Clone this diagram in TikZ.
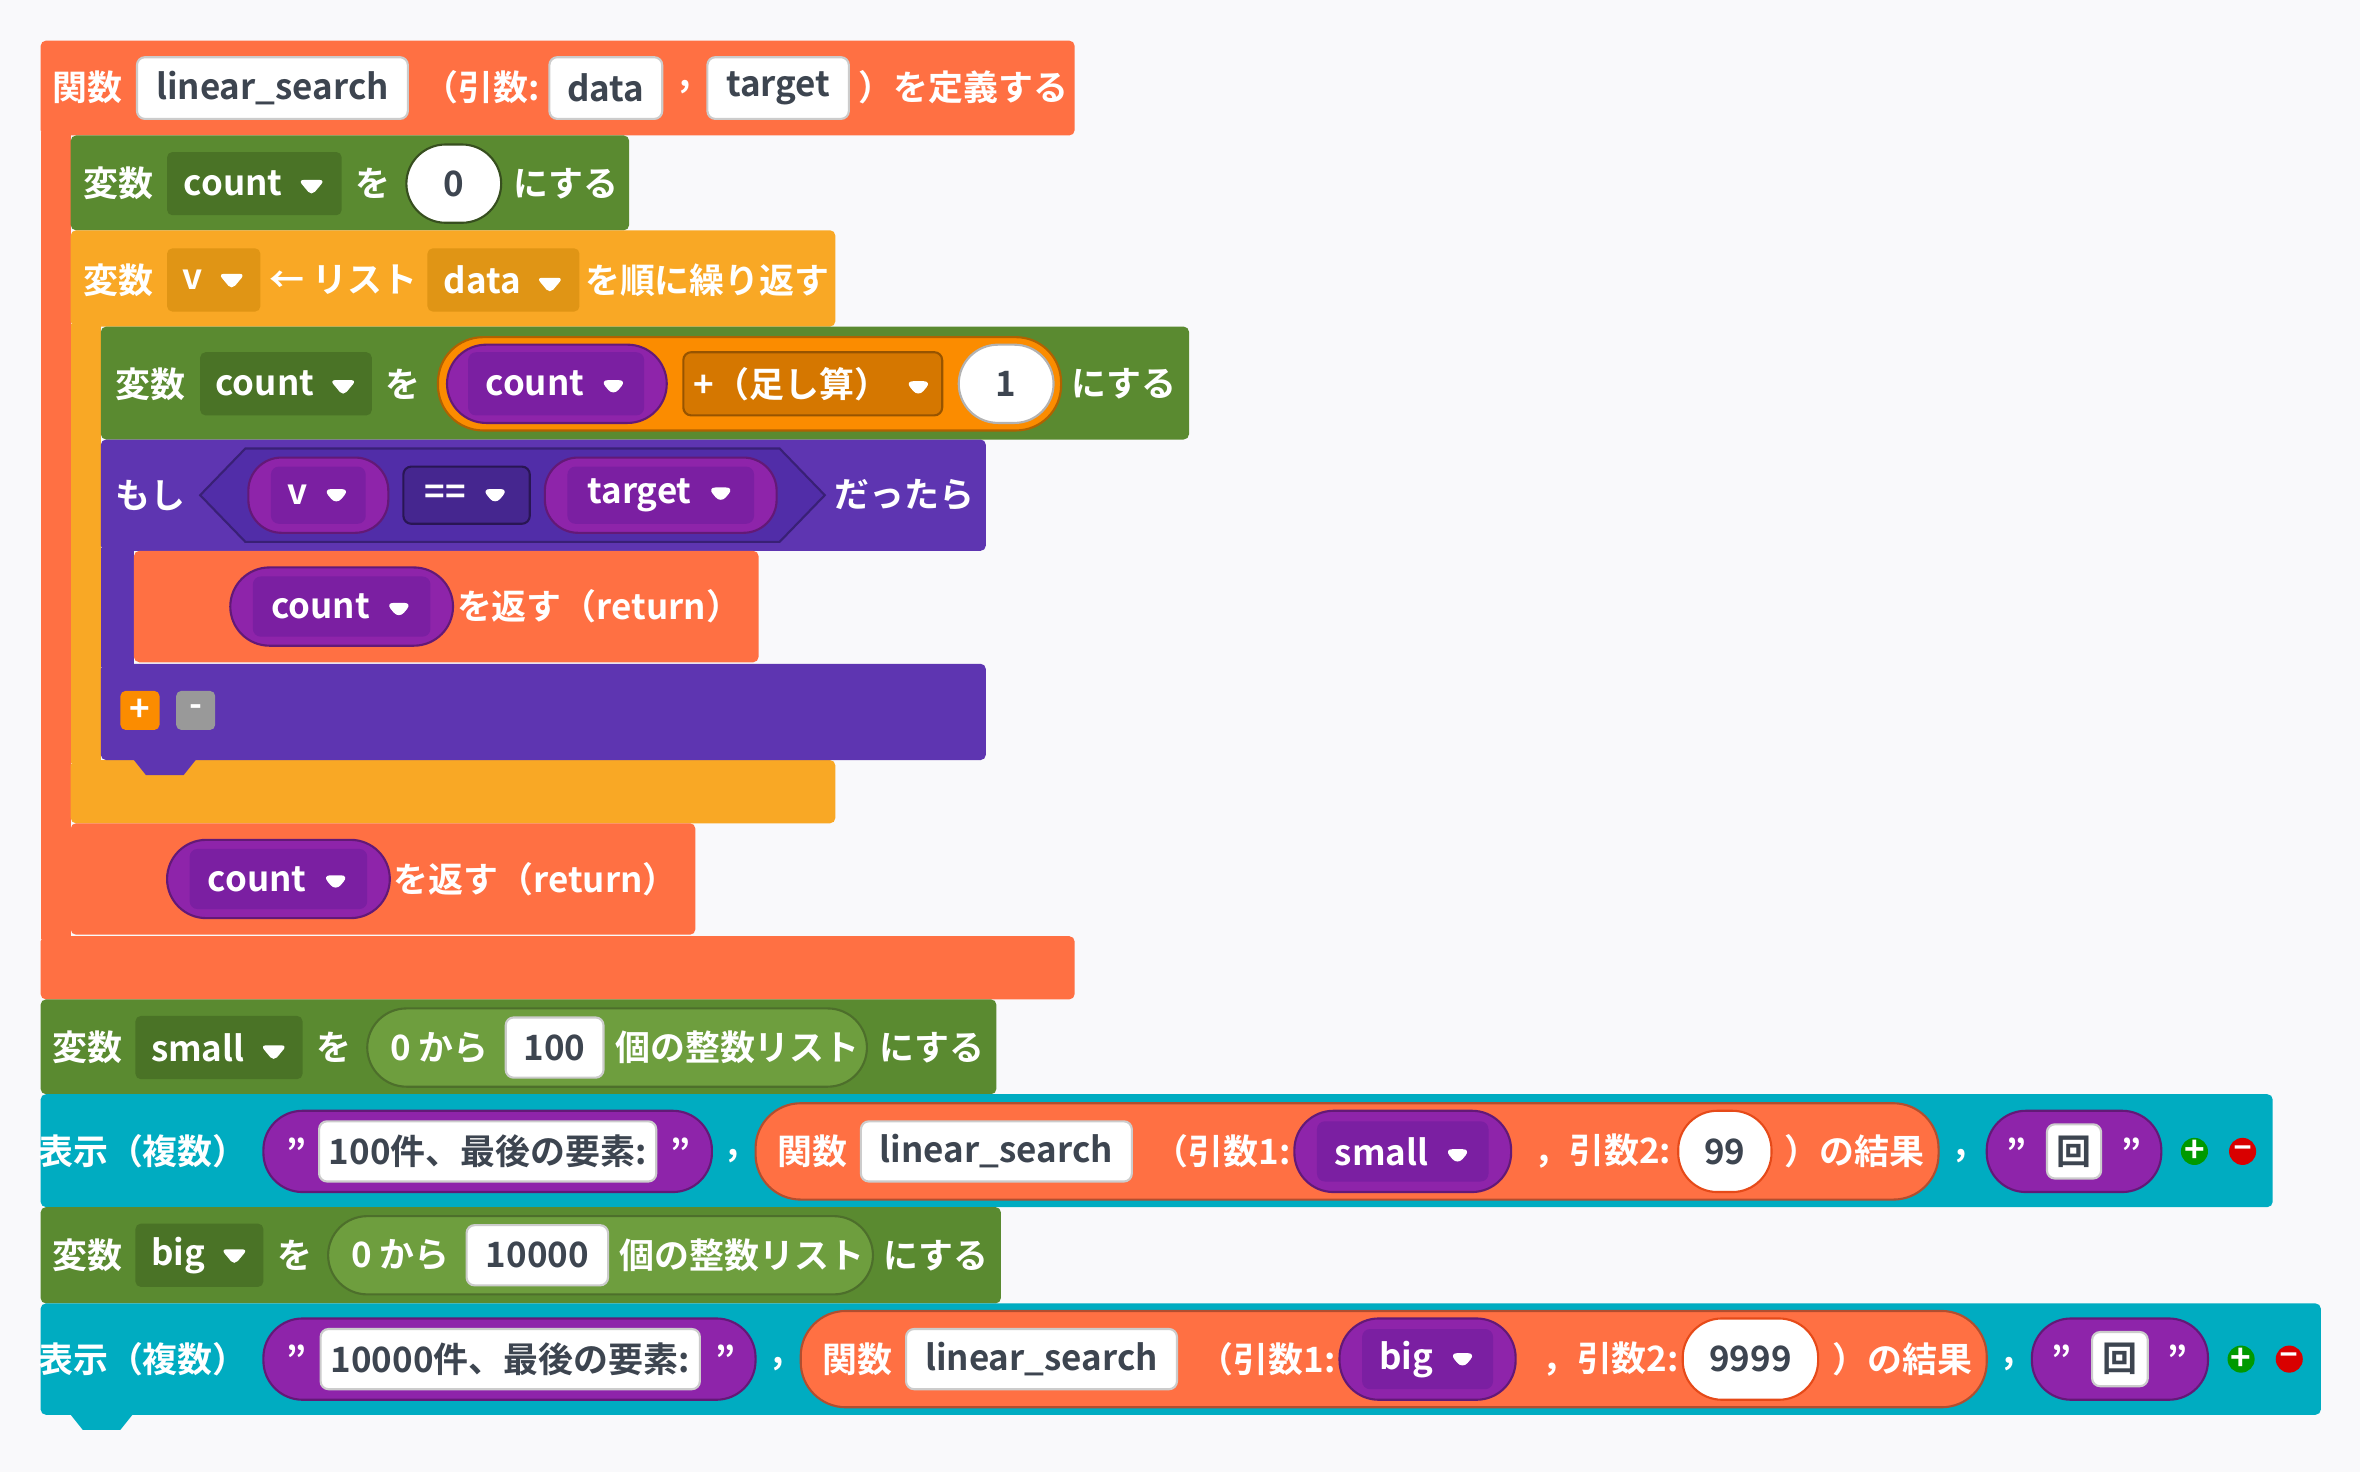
\documentclass[tikz,border=0pt]{standalone}
\usepackage{fontspec}
\setmainfont{Noto Sans CJK JP}[BoldFont={Noto Sans CJK JP Bold}]
\usetikzlibrary{positioning}
\definecolor{bgc}{HTML}{F9F9FB}
\definecolor{fnc}{HTML}{FF7043}
\definecolor{fnd}{HTML}{E64A19}
\definecolor{varc}{HTML}{5A8A30}
\definecolor{vard}{HTML}{4A7326}
\definecolor{varl}{HTML}{6E9E3E}
\definecolor{loopc}{HTML}{F9A825}
\definecolor{loopd}{HTML}{E09515}
\definecolor{ifc}{HTML}{5E35B1}
\definecolor{ifd}{HTML}{512DA8}
\definecolor{repc}{HTML}{8E24AA}
\definecolor{repd}{HTML}{7B1FA2}
\definecolor{opc}{HTML}{FB8C00}
\definecolor{prc}{HTML}{00ACC1}
\definecolor{prd}{HTML}{0097A7}
\definecolor{ink}{HTML}{3D4550}
\newcommand{\dd}{\hspace{3pt}\tikz\fill[white] (0pt,0pt)--(5pt,0pt)--(2.5pt,-3pt)--cycle;}
\begin{document}
\begin{tikzpicture}[x=0.01cm,y=-0.01cm,font=\fontsize{6.6}{8}\selectfont\bfseries,
    blk/.style={fill=#1,rounded corners=1pt},
    fld/.style={fill=white,draw=gray!40,rounded corners=1.5pt},
    pill/.style={fill=#1,draw=#1!70!black,line width=0.4pt,rounded corners=2.6mm},
    ipill/.style={fill=#1,draw=#1!70!black,line width=0.4pt,rounded corners=1.9mm},
    lbl/.style={text=white,inner sep=0pt},
    dark/.style={text=ink,inner sep=0pt}]
  \fill[bgc] (0,0) rectangle (1568,978);
  % function definition
  \fill[blk=fnc] (27,27) rectangle (714,90);
  \fill[fnc] (27,88) rectangle (47,624);
  \fill[blk=fnc] (27,622) rectangle (714,664);
  \node[lbl] (fn) at (58,58) {関数};
  \draw[fld] (91,38) rectangle (271,79) node[midway,dark] (fname) {linear\textunderscore search};
  \node[lbl] at (320,58) {（引数:};
  \draw[fld] (365,38) rectangle (440,79) node[midway,dark] (arg1) {data};
  \node[lbl] at (455,58) {,};
  \draw[fld] (470,38) rectangle (564,79) node[midway,dark] (arg2) {target};
  \node[lbl] at (640,58) {）を定義する};
  % count = 0
  \fill[blk=varc] (47,90) rectangle (418,153);
  \node[lbl] at (79,122) {変数};
  \fill[blk=vard] (111,101) rectangle (227,143) node[midway,lbl] {count\dd};
  \node[lbl] at (248,122) {を};
  \draw[pill=white,draw=varl!50!black] (270,96) rectangle (333,148) node[midway,dark] {0};
  \node[lbl] at (376,122) {にする};
  % for loop
  \fill[blk=loopc] (47,153) rectangle (555,217);
  \fill[loopc] (47,215) rectangle (67,507);
  \fill[blk=loopc] (47,505) rectangle (555,547);
  \node[lbl] at (79,186) {変数};
  \fill[blk=loopd] (111,165) rectangle (173,207) node[midway,lbl] {v\dd};
  \node[lbl] at (228,186) {← リスト};
  \fill[blk=loopd] (284,165) rectangle (385,207) node[midway,lbl] {data\dd};
  \node[lbl] at (470,186) {を順に繰り返す};
  % count = count + 1
  \fill[blk=varc] (67,217) rectangle (790,292);
  \node[lbl] at (100,255) {変数};
  \fill[blk=vard] (133,234) rectangle (247,276) node[midway,lbl] {count\dd};
  \node[lbl] at (268,255) {を};
  \draw[pill=opc,rounded corners=3mm] (291,224) rectangle (705,286);
  \draw[pill=repc] (297,229) rectangle (443,281);
  \fill[repd,rounded corners=1.5pt] (311,234) rectangle (428,276) node[midway,lbl] {count\dd};
  \draw[fill=opc!85!black,draw=opc!60!black,rounded corners=1.5pt] (454,234) rectangle (626,276) node[midway,lbl] {+（足し算）\dd};
  \draw[pill=white] (637,229) rectangle (700,281) node[midway,dark] {1};
  \node[lbl] at (747,255) {にする};
  % if block
  \fill[blk=ifc] (67,292) rectangle (655,366);
  \fill[ifc] (67,364) rectangle (89,443);
  \fill[blk=ifc] (67,441) rectangle (655,505);
  \fill[ifc] (89,505) -- (97,515) -- (122,515) -- (130,505) -- cycle;
  \node[lbl] at (100,329) {もし};
  \draw[fill=ifd,draw=ifd!70!black] (133,329) -- (163,298) -- (518,298) -- (548,329) -- (518,360) -- (163,360) -- cycle;
  \draw[ipill=repc,rounded corners=2.2mm] (165,304) rectangle (258,354);
  \fill[repd,rounded corners=1.5pt] (180,310) rectangle (243,348) node[midway,lbl] {v\dd};
  \draw[fill=ifd!85!black,draw=ifd!50!black,rounded corners=1.5pt] (268,310) rectangle (352,348) node[midway,lbl] {==\dd};
  \draw[ipill=repc,rounded corners=2.2mm] (362,304) rectangle (516,354);
  \fill[repd,rounded corners=1.5pt] (377,310) rectangle (501,348) node[midway,lbl] {target\dd};
  \node[lbl] at (601,329) {だったら};
  \fill[blk=fnc] (89,366) rectangle (504,440);
  \draw[pill=repc] (153,377) rectangle (301,429);
  \fill[repd,rounded corners=1.5pt] (168,383) rectangle (286,423) node[midway,lbl] {count\dd};
  \node[lbl] at (398,403) {を返す（return）};
  \fill[opc,rounded corners=1pt] (80,459) rectangle (106,485) node[midway,lbl] {+};
  \fill[gray!80,rounded corners=1pt] (117,459) rectangle (143,485) node[midway,lbl] {-};
  % return count
  \fill[blk=fnc] (47,547) rectangle (462,621);
  \draw[pill=repc] (111,558) rectangle (259,610);
  \fill[repd,rounded corners=1.5pt] (126,564) rectangle (244,604) node[midway,lbl] {count\dd};
  \node[lbl] at (356,584) {を返す（return）};
  % small
  \fill[blk=varc] (27,664) rectangle (662,727);
  \node[lbl] at (58,696) {変数};
  \fill[blk=vard] (90,675) rectangle (201,717) node[midway,lbl] {small\dd};
  \node[lbl] at (222,696) {を};
  \draw[pill=varl] (244,670) rectangle (576,722);
  \node[lbl] at (292,696) {0 から};
  \draw[fld] (336,676) rectangle (401,716) node[midway,dark] {100};
  \node[lbl] at (490,696) {個の整数リスト};
  \node[lbl] at (619,696) {にする};
  % print 1
  \fill[blk=prc] (27,727) rectangle (1510,802);
  \node[lbl] at (95,765) {表示（複数）};
  \draw[pill=repc] (175,738) rectangle (473,792);
  \node[lbl] at (197,765) {\char"22};
  \draw[fld] (212,745) rectangle (436,785) node[midway,dark] {100件、最後の要素:};
  \node[lbl] at (452,765) {\char"22};
  \node[lbl] at (487,768) {,};
  \draw[pill=fnc,rounded corners=3mm] (502,733) rectangle (1288,797);
  \node[lbl] at (540,765) {関数};
  \draw[fld] (572,745) rectangle (752,785) node[midway,dark] {linear\textunderscore search};
  \node[lbl] at (812,765) {（引数1:};
  \draw[pill=repc] (860,738) rectangle (1004,792);
  \fill[repd,rounded corners=1.5pt] (875,745) rectangle (989,785) node[midway,lbl] {small\dd};
  \node[lbl] at (1065,765) {，引数2:};
  \draw[pill=white,draw=fnd] (1115,738) rectangle (1177,792) node[midway,dark] {99};
  \node[lbl] at (1232,765) {）の結果};
  \node[lbl] at (1303,768) {,};
  \draw[pill=repc] (1320,738) rectangle (1436,792);
  \node[lbl] at (1340,765) {\char"22};
  \draw[fld] (1360,747) rectangle (1396,783) node[midway,dark] {回};
  \node[lbl] at (1416,765) {\char"22};
  \fill[green!60!black] (1458,765) circle (9) node[lbl] {+};
  \fill[red!85!black] (1490,765) circle (9) node[lbl] {--};
  % big
  \fill[blk=varc] (27,802) rectangle (665,866);
  \node[lbl] at (58,834) {変数};
  \fill[blk=vard] (90,813) rectangle (175,855) node[midway,lbl] {big\dd};
  \node[lbl] at (196,834) {を};
  \draw[pill=varl] (218,808) rectangle (580,860);
  \node[lbl] at (266,834) {0 から};
  \draw[fld] (310,814) rectangle (404,854) node[midway,dark] {10000};
  \node[lbl] at (493,834) {個の整数リスト};
  \node[lbl] at (622,834) {にする};
  % print 2
  \fill[blk=prc] (27,866) rectangle (1542,940);
  \fill[prc] (47,940) -- (55,950) -- (80,950) -- (88,940) -- cycle;
  \node[lbl] at (95,903) {表示（複数）};
  \draw[pill=repc] (175,876) rectangle (502,930);
  \node[lbl] at (197,903) {\char"22};
  \draw[fld] (213,883) rectangle (465,923) node[midway,dark] {10000件、最後の要素:};
  \node[lbl] at (482,903) {\char"22};
  \node[lbl] at (517,906) {,};
  \draw[pill=fnc,rounded corners=3mm] (532,871) rectangle (1320,935);
  \node[lbl] at (570,903) {関数};
  \draw[fld] (602,883) rectangle (782,923) node[midway,dark] {linear\textunderscore search};
  \node[lbl] at (842,903) {（引数1:};
  \draw[pill=repc] (890,876) rectangle (1007,930);
  \fill[repd,rounded corners=1.5pt] (905,883) rectangle (992,923) node[midway,lbl] {big\dd};
  \node[lbl] at (1070,903) {，引数2:};
  \draw[pill=white,draw=fnd] (1118,876) rectangle (1208,930) node[midway,dark] {9999};
  \node[lbl] at (1264,903) {）の結果};
  \node[lbl] at (1335,906) {,};
  \draw[pill=repc] (1350,876) rectangle (1467,930);
  \node[lbl] at (1370,903) {\char"22};
  \draw[fld] (1390,885) rectangle (1427,921) node[midway,dark] {回};
  \node[lbl] at (1447,903) {\char"22};
  \fill[green!60!black] (1489,903) circle (9) node[lbl] {+};
  \fill[red!85!black] (1521,903) circle (9) node[lbl] {--};
\end{tikzpicture}
\end{document}
